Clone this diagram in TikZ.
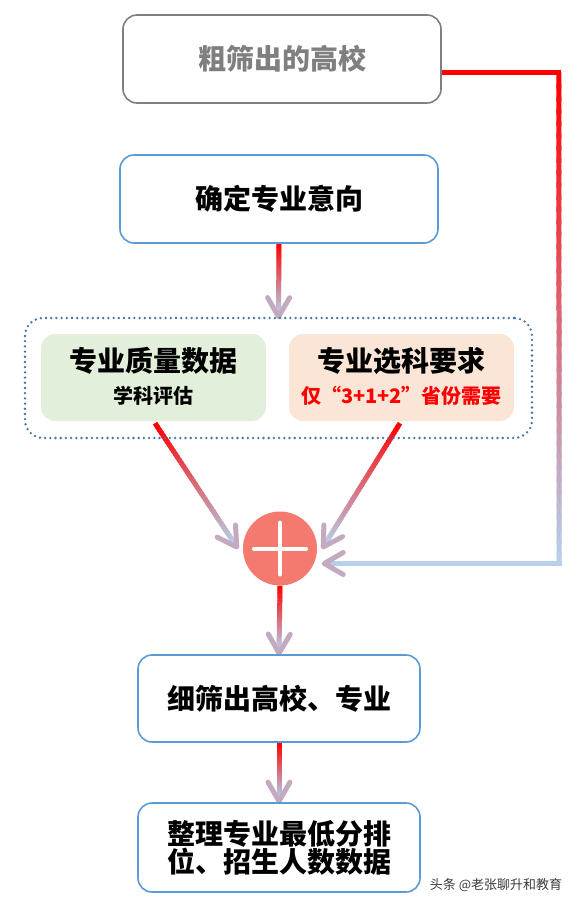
\documentclass[tikz,border=0pt]{standalone}
\usepackage{fontspec}
\setmainfont{Noto Sans CJK SC}
\usetikzlibrary{calc,backgrounds}
\definecolor{lb}{HTML}{B6CFEA}
\definecolor{bblue}{HTML}{5B9BD5}
\definecolor{bgray}{HTML}{7F7F7F}
\definecolor{dblue}{HTML}{41719C}
\definecolor{gfill}{HTML}{E2EFDA}
\definecolor{pfill}{HTML}{FBE5D6}
\definecolor{cfill}{HTML}{F4796F}
\definecolor{wm}{HTML}{3A3A3A}
\newcommand{\gline}[2]{%
  \foreach \i in {0,...,39}{%
    \pgfmathsetmacro\ta{\i/40}%
    \pgfmathsetmacro\tb{min((\i+1.4)/40,1)}%
    \pgfmathsetmacro\pc{100*(1-\i/39)}%
    \draw[line width=5pt,color=red!\pc!lb] ($(#1)!\ta!(#2)$) -- ($(#1)!\tb!(#2)$);}}
\newcommand{\ghead}[2]{%
  \draw[line width=5pt,line cap=round,line join=round,color=red!18!lb]
    ($(#2)!22pt!30:(#1)$) -- (#2) -- ($(#2)!22pt!-30:(#1)$);}
\newcommand{\garrow}[2]{%
  \coordinate (gx) at ($(#2)!3pt!(#1)$);
  \gline{#1}{gx}\ghead{#1}{#2}}
\begin{document}
\begin{tikzpicture}[x=1pt,y=-1pt,
  box/.style={draw,rounded corners=14pt,line width=1.6pt,fill=white,align=center,inner sep=0pt,font=\bfseries\fontsize{28}{27}\selectfont},
  inbox/.style={rounded corners=14pt,align=center,inner sep=0pt,minimum width=225pt,minimum height=87pt},
  big/.style={font=\bfseries\fontsize{28}{30}\selectfont},
  small/.style={font=\bfseries\fontsize{20}{22}\selectfont}]
\useasboundingbox (0,0) rectangle (586,908);
% nodes
\node[box,draw=bgray,text=bgray,minimum width=318pt,minimum height=88pt] (n1) at (282,59) {粗筛出的高校};
\node[box,draw=bblue,minimum width=318pt,minimum height=88pt] (n2) at (279,199) {确定专业意向};
\node[draw=dblue,line width=2.6pt,line cap=round,dash pattern=on 0pt off 5.2pt,rounded corners=18pt,minimum width=507pt,minimum height=120pt] (grp) at (278.5,378) {};
\node[inbox,fill=gfill] (g) at (153.5,377.5) {};
\node[big] (gt) at (153.5,361) {专业质量数据};
\node[small] (gs) at (153.5,396) {学科评估};
\node[inbox,fill=pfill] (p) at (401.5,377.5) {};
\node[big] (pt) at (401.5,361) {专业选科要求};
\node[small,text=red] (ps) at (401.5,396) {仅“3+1+2”省份需要};
\node[circle,fill=cfill,minimum size=74pt,inner sep=0pt] (plus) at (280,548.5) {};
\draw[white,line width=4pt,line cap=round] ($(plus)+(-26,0)$) -- ($(plus)+(26,0)$);
\draw[white,line width=4pt,line cap=round] ($(plus)+(0,-26)$) -- ($(plus)+(0,26)$);
\node[box,draw=bblue,minimum width=282pt,minimum height=87pt] (n3) at (279,698.5) {细筛出高校、专业};
\node[box,draw=bblue,minimum width=282pt,minimum height=89pt] (n4) at (279,847.5) {整理专业最低分排\\位、招生人数数据};
\node[font=\fontsize{13}{15}\selectfont,text=wm] (wmk) at (496,885) {头条 @老张聊升和教育};
% connectors
\begin{scope}[on background layer]
\coordinate (a1s) at (n2.south);
\coordinate (a1t) at ($(grp.north)+(0,0)$);
\garrow{a1s}{a1t}
\coordinate (a2s) at ($(g.south)+(1.5,2)$);
\coordinate (a2t) at ($(plus.west)+(-6,-1.5)$);
\garrow{a2s}{a2t}
\coordinate (a3s) at ($(p.south)+(-1.5,2)$);
\coordinate (a3t) at ($(plus.east)+(6,-1.5)$);
\garrow{a3s}{a3t}
\coordinate (a4s) at (plus.south);
\coordinate (a4t) at ($(n3.north)+(0,-1)$);
\garrow{a4s}{a4t}
\coordinate (a5s) at (n3.south);
\coordinate (a5t) at ($(n4.north)+(0,-1)$);
\garrow{a5s}{a5t}
% long connector
\coordinate (l0) at ($(n1.east)+(0,13)$);
\coordinate (l1) at ($(l0)+(117,0)$);
\coordinate (l2) at ($(plus.east)+(242,15)$);
\coordinate (l3) at ($(plus.east)+(7,15)$);
\draw[red,line width=5pt] (l0) -- ($(l1)+(2.5,0)$);
\gline{l1}{l2}
\coordinate (l2b) at ($(l2)+(2.5,0)$);
\coordinate (l3b) at ($(l3)+(3,0)$);
\draw[lb,line width=5pt] (l2b) -- (l3b);
\ghead{l2}{l3}
\end{scope}
\end{tikzpicture}
\end{document}
